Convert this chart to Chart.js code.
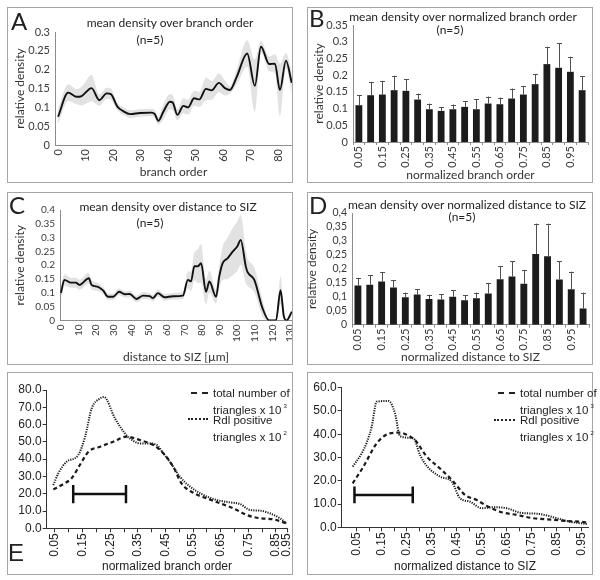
<!DOCTYPE html>
<html>
<head>
<meta charset="utf-8">
<script src="https://cdn.jsdelivr.net/npm/chart.js@4.4.0/dist/chart.umd.min.js"></script>
<style>
body { margin: 0; background: #fff; }
#page { position: relative; width: 600px; height: 580px; overflow: hidden; font-family: Lato, sans-serif; color: #222; }
.box { position: absolute; box-sizing: border-box; border: 1px solid #a6a6a6; }
.box canvas { position: absolute; left: 0; top: 0; }
.t { position: absolute; white-space: nowrap; font-size: 12px; line-height: 14px; transform: translateX(-50%); }
.big { position: absolute; font-size: 24px; line-height: 1; }
.lg { position: absolute; font-family: "Liberation Sans", Arial, sans-serif; font-size: 11.5px; line-height: 13px; white-space: nowrap; }
.lg sup { font-size: 6px; vertical-align: 6px; margin-left: 2px; }
.smp { position: absolute; height: 0; }
</style>
</head>
<body>
<div id="page">
  <div class="box" style="left:7px;top:7px;width:286px;height:176px"><canvas id="cA" width="284" height="174"></canvas></div>
  <div class="box" style="left:307px;top:7px;width:286px;height:176px"><canvas id="cB" width="284" height="174"></canvas></div>
  <div class="box" style="left:7px;top:192px;width:286px;height:173px"><canvas id="cC" width="284" height="171"></canvas></div>
  <div class="box" style="left:307px;top:192px;width:286px;height:173px"><canvas id="cD" width="284" height="171"></canvas></div>
  <div class="box" style="left:7px;top:372px;width:286px;height:203px"><canvas id="cE1" width="284" height="201"></canvas></div>
  <div class="box" style="left:307px;top:372px;width:286px;height:203px"><canvas id="cE2" width="284" height="201"></canvas></div>

  <div class="big" style="left:11px;top:9px">A</div>
  <div class="big" style="left:309px;top:6px">B</div>
  <div class="big" style="left:9px;top:193px">C</div>
  <div class="big" style="left:309px;top:193px">D</div>
  <div class="big" style="left:8px;top:541px;font-family:'Liberation Sans',sans-serif">E</div>

  <div class="t" style="left:170px;top:16px">mean density over branch order</div>
  <div class="t" style="left:150px;top:33px">(n=5)</div>
  <div class="t" style="left:463px;top:10px">mean density over normalized branch order</div>
  <div class="t" style="left:450px;top:23px">(n=5)</div>
  <div class="t" style="left:168px;top:200px">mean density over distance to SIZ</div>
  <div class="t" style="left:150px;top:216px">(n=5)</div>
  <div class="t" style="left:467px;top:198px">mean density over normalized distance to SIZ</div>
  <div class="t" style="left:462px;top:210px">(n=5)</div>

  <div class="smp" style="left:191px;top:392px;width:17px;border-top:2px dashed #222"></div>
  <div class="lg" style="left:213px;top:387px">total number of</div>
  <div class="lg" style="left:213px;top:400px">triangles x 10<sup>3</sup></div>
  <div class="smp" style="left:188px;top:418px;width:20px;border-top:2px dotted #222"></div>
  <div class="lg" style="left:213px;top:414px">Rdl positive</div>
  <div class="lg" style="left:213px;top:427px">triangles x 10<sup>2</sup></div>

  <div class="smp" style="left:498px;top:392px;width:17px;border-top:2px dashed #222"></div>
  <div class="lg" style="left:520px;top:387px">total number of</div>
  <div class="lg" style="left:520px;top:400px">triangles x 10<sup>3</sup></div>
  <div class="smp" style="left:494px;top:419px;width:21px;border-top:2px dotted #222"></div>
  <div class="lg" style="left:520px;top:414px">Rdl positive</div>
  <div class="lg" style="left:520px;top:427px">triangles x 10<sup>2</sup></div>
</div>
<script>
// A: mean density over branch order (mean +- spread)
const aOrder = [0, 3.7, 6.8, 8.6, 12.2, 15, 17.7, 19.2, 21.6, 23.7, 26.2, 29.8, 34, 35.2, 36.5, 38.3, 40.7, 41.7, 43.4, 45.6, 47.3, 49.5, 51.4, 53.8, 55.9, 58.5, 60.7, 62.5, 65, 68.8, 71.6, 73.8, 76.8, 78.9, 80.7, 82.9, 85];
const aMean = [0.075, 0.139, 0.128, 0.13, 0.151, 0.119, 0.137, 0.135, 0.102, 0.09, 0.082, 0.085, 0.086, 0.082, 0.064, 0.088, 0.115, 0.113, 0.08, 0.104, 0.1, 0.124, 0.121, 0.149, 0.145, 0.165, 0.151, 0.146, 0.181, 0.243, 0.157, 0.261, 0.215, 0.216, 0.146, 0.224, 0.165];
const aSpread = [0.02, 0.022, 0.02, 0.025, 0.035, 0.015, 0.015, 0.015, 0.01, 0.01, 0.01, 0.01, 0.01, 0.01, 0.01, 0.02, 0.02, 0.02, 0.015, 0.02, 0.02, 0.02, 0.02, 0.03, 0.025, 0.025, 0.02, 0.01, 0.02, 0.035, 0.07, 0.015, 0.02, 0.025, 0.07, 0.02, 0.03];
const aTicks = [0, 10, 20, 30, 40, 50, 60, 70, 80];

// B and D: bars with upper error bars
const normCats = ['0.05', '0.1', '0.15', '0.2', '0.25', '0.3', '0.35', '0.4', '0.45', '0.5', '0.55', '0.6', '0.65', '0.7', '0.75', '0.8', '0.85', '0.9', '0.95', '1'];
const bMean = [0.11, 0.14, 0.142, 0.155, 0.153, 0.127, 0.098, 0.093, 0.098, 0.105, 0.098, 0.115, 0.113, 0.13, 0.142, 0.173, 0.233, 0.222, 0.21, 0.155];
const bErrTop = [0.14, 0.18, 0.183, 0.198, 0.187, 0.145, 0.115, 0.105, 0.112, 0.122, 0.128, 0.136, 0.133, 0.16, 0.167, 0.202, 0.285, 0.295, 0.255, 0.197];
const dMean = [0.14, 0.143, 0.155, 0.133, 0.098, 0.108, 0.092, 0.09, 0.1, 0.088, 0.095, 0.112, 0.163, 0.173, 0.147, 0.253, 0.245, 0.162, 0.127, 0.058];
const dErrTop = [0.168, 0.178, 0.188, 0.16, 0.115, 0.128, 0.107, 0.11, 0.123, 0.105, 0.115, 0.15, 0.21, 0.228, 0.196, 0.362, 0.362, 0.227, 0.19, 0.115];

// C: mean density over distance to SIZ
const cDist = [0, 1.9, 5.6, 8.5, 10.4, 15.8, 17.3, 21, 24, 26.7, 29.6, 33, 36.2, 39, 42.8, 46.6, 50.3, 52.2, 55, 58.8, 63.5, 69.2, 72, 73.8, 75.7, 77.6, 79.5, 82.3, 84.2, 88, 89.8, 91.7, 94.5, 97.4, 100.2, 102, 104.9, 105.9, 109.7, 114.4, 118.2, 122, 124.6, 126.5, 128, 131];
const cMean = [0.1, 0.147, 0.137, 0.137, 0.129, 0.153, 0.129, 0.122, 0.108, 0.086, 0.086, 0.104, 0.095, 0.096, 0.078, 0.09, 0.088, 0.081, 0.099, 0.084, 0.088, 0.09, 0.147, 0.142, 0.197, 0.196, 0.207, 0.104, 0.141, 0.086, 0.159, 0.207, 0.225, 0.249, 0.27, 0.292, 0.195, 0.175, 0.147, 0.044, 0, 0, 0.11, 0.014, 0, 0.032];
const cSpread = [0.02, 0.02, 0.018, 0.018, 0.018, 0.02, 0.018, 0.015, 0.012, 0.012, 0.012, 0.012, 0.012, 0.012, 0.012, 0.012, 0.012, 0.012, 0.012, 0.012, 0.012, 0.012, 0.03, 0.035, 0.05, 0.06, 0.07, 0.045, 0.04, 0.025, 0.04, 0.06, 0.075, 0.085, 0.09, 0.09, 0.06, 0.05, 0.045, 0.03, 0.005, 0.005, 0.05, 0.01, 0.005, 0.01];
const cTicks = [0, 10, 20, 30, 40, 50, 60, 70, 80, 90, 100, 110, 120, 130];

// E left: over normalized branch order
const eLRdlX = [0.044, 0.062, 0.092, 0.134, 0.159, 0.183, 0.213, 0.227, 0.267, 0.303, 0.321, 0.358, 0.388, 0.418, 0.442, 0.466, 0.502, 0.539, 0.587, 0.635, 0.683, 0.719, 0.756, 0.792, 0.828, 0.864, 0.888];
const eLRdl = [25, 31.8, 38.5, 42.4, 53, 69.4, 75.1, 76, 63.6, 54.9, 52, 49.1, 49.1, 48.2, 43.4, 38.5, 29.9, 24.1, 19.3, 16.4, 15, 14.1, 10.6, 10.2, 8.7, 5.8, 2.9];
const eLTotX = [0.044, 0.08, 0.11, 0.14, 0.171, 0.213, 0.261, 0.309, 0.358, 0.406, 0.442, 0.478, 0.508, 0.55, 0.599, 0.647, 0.695, 0.744, 0.792, 0.84, 0.888];
const eLTot = [22.5, 25.6, 28.9, 36.6, 44.3, 47.2, 50.1, 53, 51, 48.2, 43.4, 35.6, 26, 20.6, 17.3, 14.5, 11.6, 7.7, 5.8, 5.2, 2.9];
const eLTickVals = [0.05, 0.1, 0.15, 0.2, 0.25, 0.3, 0.35, 0.4, 0.45, 0.5, 0.55, 0.6, 0.65, 0.7, 0.75, 0.8, 0.85, 0.89];
const eLTickLabels = ['0.05', '', '0.15', '', '0.25', '', '0.35', '', '0.45', '', '0.55', '', '0.65', '', '0.75', '', '0.85', '0.95'];
const eLBarX = [0.116, 0.307];
const eLBarY = 19.8;
const eLCapY = [25, 14.5];

// E right: over normalized distance to SIZ
const eRRdlX = [0.034, 0.07, 0.09, 0.11, 0.13, 0.177, 0.203, 0.223, 0.277, 0.303, 0.33, 0.383, 0.43, 0.463, 0.503, 0.55, 0.597, 0.65, 0.703, 0.783, 0.85, 0.903, 0.97];
const eRRdl = [26.1, 31.8, 36.4, 43.3, 54, 54.3, 49, 39.2, 38.2, 31.1, 26.4, 21.8, 19.6, 12.5, 11, 8.2, 8.6, 8.2, 6.3, 5.7, 3.9, 2.4, 1.4];
const eRTotX = [0.034, 0.077, 0.13, 0.183, 0.223, 0.263, 0.283, 0.33, 0.383, 0.437, 0.483, 0.53, 0.57, 0.623, 0.69, 0.757, 0.837, 0.89, 0.943, 0.977];
const eRTot = [18.9, 26.1, 36.1, 40.4, 40.7, 39, 37.5, 30.4, 25.3, 19.6, 13.9, 11.7, 9.2, 6.7, 5.3, 3.9, 3.2, 2.7, 2.4, 2];
const eRTickVals = [0.05, 0.1, 0.15, 0.2, 0.25, 0.3, 0.35, 0.4, 0.45, 0.5, 0.55, 0.6, 0.65, 0.7, 0.75, 0.8, 0.85, 0.9, 0.95];
const eRTickLabels = ['0.05', '', '0.15', '', '0.25', '', '0.35', '', '0.45', '', '0.55', '', '0.65', '', '0.75', '', '0.85', '', '0.95'];
const eRBarX = [0.041, 0.274];
const eRBarY = 13.9;
const eRCapY = [17.5, 10.3];

Chart.defaults.font.family = 'Lato, sans-serif';
Chart.defaults.color = '#3a3a3a';

const pts = (xs, ys) => xs.map((x, i) => ({ x: x, y: ys[i] }));
const fixW = w => s => { s.width = w; s.paddingTop = 0; s.paddingBottom = 0; };
const fixH = h => s => { s.height = h; s.paddingLeft = 0; s.paddingRight = 0; };
const setTicks = vals => s => { s.ticks = vals.map(v => ({ value: v })); };
const none = 'rgba(0,0,0,0)';

function baseOpts(pad) {
    return {
        animation: false,
        responsive: false,
        events: [],
        layout: { padding: pad },
        plugins: { legend: { display: false }, tooltip: { enabled: false } }
    };
}

function bandChart(id, xs, mean, spread, o) {
    const upper = mean.map((v, i) => v + spread[i]);
    const lower = mean.map((v, i) => Math.max(0, v - spread[i]));
    const opts = baseOpts(o.pad);
    opts.scales = {
        x: {
            type: 'linear', min: o.xMin, max: o.xMax,
            afterBuildTicks: setTicks(o.xTicks), afterFit: fixH(o.xH),
            grid: { display: false, drawTicks: false }, border: { color: '#8c8c8c' },
            ticks: { autoSkip: false, minRotation: 90, maxRotation: 90, padding: 4, font: { size: o.tickSize } },
            title: { display: true, text: o.xTitle, color: '#333', font: { size: 12, lineHeight: 1 }, padding: { top: 0, bottom: o.xTitlePad } }
        },
        y: {
            min: 0, max: o.yMax, afterFit: fixW(o.yW),
            grid: { display: false, drawTicks: false }, border: { color: '#8c8c8c' },
            ticks: { autoSkip: false, stepSize: 0.05, padding: 5, font: { size: o.tickSize }, callback: v => String(+v.toFixed(2)) },
            title: { display: true, text: 'relative density', color: '#333', font: { size: 12, lineHeight: 1 }, padding: { top: o.yTitlePad } }
        }
    };
    new Chart(document.getElementById(id), {
        type: 'line',
        data: {
            datasets: [
                { data: pts(xs, mean), borderColor: '#111', borderWidth: 1.9, pointRadius: 0, cubicInterpolationMode: 'monotone', fill: false },
                { data: pts(xs, upper), borderColor: none, borderWidth: 1, pointRadius: 0, cubicInterpolationMode: 'monotone', backgroundColor: '#e2e2e2', fill: '+1' },
                { data: pts(xs, lower), borderColor: none, borderWidth: 1, pointRadius: 0, cubicInterpolationMode: 'monotone', fill: false }
            ]
        },
        options: opts
    });
}

function errPlugin(errTop) {
    return {
        id: 'errbars',
        afterDatasetsDraw(chart) {
            const ctx = chart.ctx;
            const y = chart.scales.y;
            ctx.save();
            ctx.strokeStyle = '#505050';
            ctx.lineWidth = 1;
            chart.getDatasetMeta(0).data.forEach((bar, i) => {
                const top = y.getPixelForValue(errTop[i]);
                const x = Math.round(bar.x) + 0.5;
                ctx.beginPath();
                ctx.moveTo(x, bar.y);
                ctx.lineTo(x, top);
                ctx.moveTo(x - 2.5, Math.round(top) + 0.5);
                ctx.lineTo(x + 2.5, Math.round(top) + 0.5);
                ctx.stroke();
            });
            ctx.restore();
        }
    };
}

function barChart(id, values, errTop, o) {
    const opts = baseOpts(o.pad);
    opts.scales = {
        x: {
            afterFit: fixH(o.xH),
            grid: { display: true, drawOnChartArea: false, drawTicks: true, tickLength: 3, color: '#8c8c8c' },
            border: { color: '#8c8c8c' },
            ticks: { autoSkip: false, minRotation: 90, maxRotation: 90, padding: 1, font: { size: 11 },
                callback: (v, i) => i % 2 === 0 ? normCats[i] : '' },
            title: { display: true, text: o.xTitle, color: '#333', font: { size: 12, lineHeight: 1 }, padding: { top: 0, bottom: o.xTitlePad } }
        },
        y: {
            min: 0, max: o.yMax, afterFit: fixW(o.yW),
            grid: { display: false, drawTicks: false }, border: { color: '#8c8c8c' },
            ticks: { autoSkip: false, stepSize: 0.05, padding: 5, font: { size: o.tickSize }, callback: o.yFmt },
            title: { display: true, text: 'relative density', color: '#333', font: { size: 12, lineHeight: 1 }, padding: { top: o.yTitlePad } }
        }
    };
    new Chart(document.getElementById(id), {
        type: 'bar',
        data: {
            labels: normCats,
            datasets: [{ data: values, backgroundColor: '#1c1c1c', barPercentage: 0.58, categoryPercentage: 1 }]
        },
        options: opts,
        plugins: [errPlugin(errTop)]
    });
}

function triChart(id, o) {
    const opts = baseOpts(o.pad);
    const ef = { family: '"Liberation Sans", Arial, sans-serif', size: 12 };
    opts.scales = {
        x: {
            type: 'linear', min: o.xMin, max: o.xMax,
            afterBuildTicks: setTicks(o.tickVals), afterFit: fixH(o.xH),
            grid: { display: true, drawOnChartArea: false, tickLength: 4, color: '#333' },
            border: { color: '#333' },
            ticks: { autoSkip: false, minRotation: 90, maxRotation: 90, padding: 1, font: ef, color: '#222',
                callback: (v, i) => o.tickLabels[i] },
            title: { display: true, text: o.xTitle, color: '#222', font: { family: ef.family, size: 12, lineHeight: 1 }, padding: { top: 0, bottom: 1 } }
        },
        y: {
            min: 0, max: o.yMax, afterFit: fixW(o.yW),
            grid: { display: true, drawOnChartArea: false, tickLength: 4, color: '#333' },
            border: { color: '#333' },
            ticks: { autoSkip: false, stepSize: 10, padding: 1, font: ef, color: '#222', callback: v => v.toFixed(1) }
        }
    };
    const line = { pointRadius: 0, fill: false, borderColor: '#1a1a1a', cubicInterpolationMode: 'monotone' };
    const bar = { pointRadius: 0, fill: false, borderColor: '#111', borderWidth: 2.5, tension: 0 };
    new Chart(document.getElementById(id), {
        type: 'line',
        data: {
            datasets: [
                Object.assign({ data: pts(o.totX, o.tot), borderWidth: 2.2, borderDash: [4, 3] }, line),
                Object.assign({ data: pts(o.rdlX, o.rdl), borderWidth: 2, borderDash: [1.2, 1.2] }, line),
                Object.assign({ data: pts(o.barX, [o.barY, o.barY]) }, bar),
                Object.assign({ data: pts([o.barX[0], o.barX[0]], o.capY) }, bar),
                Object.assign({ data: pts([o.barX[1], o.barX[1]], o.capY) }, bar)
            ]
        },
        options: opts
    });
}

bandChart('cA', aOrder, aMean, aSpread, {
    pad: { top: 24, right: 0, left: 0, bottom: 0 }, xMin: -1.1, xMax: 85.1, xTicks: aTicks,
    xH: 37, yW: 47, yMax: 0.3, tickSize: 11, xTitle: 'branch order', xTitlePad: 4, yTitlePad: 6
});

barChart('cB', bMean, bErrTop, {
    pad: { top: 17, right: 4, left: 0, bottom: 0 }, xH: 40, yW: 45, yMax: 0.35, tickSize: 11,
    xTitle: 'normalized branch order', xTitlePad: 1, yTitlePad: 5, yFmt: v => String(+v.toFixed(2))
});

bandChart('cC', cDist, cMean, cSpread, {
    pad: { top: 17, right: 0, left: 0, bottom: 0 }, xMin: -0.57, xMax: 131.1, xTicks: cTicks,
    xH: 43.5, yW: 52, yMax: 0.4, tickSize: 10, xTitle: 'distance to SIZ [µm]', xTitlePad: 1, yTitlePad: 6
});

barChart('cD', dMean, dErrTop, {
    pad: { top: 20, right: 3, left: 0, bottom: 0 }, xH: 39.3, yW: 44, yMax: 0.4, tickSize: 10.5,
    xTitle: 'normalized distance to SIZ', xTitlePad: 1, yTitlePad: -2, yFmt: v => String(+v.toFixed(2)).replace('.', ',')
});

triChart('cE1', {
    pad: { top: 17, right: 4.7, left: 0, bottom: 0 }, xMin: 0.02, xMax: 0.891, xH: 45.7, yW: 38.7, yMax: 80,
    tickVals: eLTickVals, tickLabels: eLTickLabels, xTitle: 'normalized branch order',
    totX: eLTotX, tot: eLTot, rdlX: eLRdlX, rdl: eLRdl, barX: eLBarX, barY: eLBarY, capY: eLCapY
});

triChart('cE2', {
    pad: { top: 14.7, right: 3.7, left: 0, bottom: 0 }, xMin: -0.01, xMax: 0.976, xH: 46.7, yW: 33.7, yMax: 60,
    tickVals: eRTickVals, tickLabels: eRTickLabels, xTitle: 'normalized distance to SIZ',
    totX: eRTotX, tot: eRTot, rdlX: eRRdlX, rdl: eRRdl, barX: eRBarX, barY: eRBarY, capY: eRCapY
});
</script>
</body>
</html>
